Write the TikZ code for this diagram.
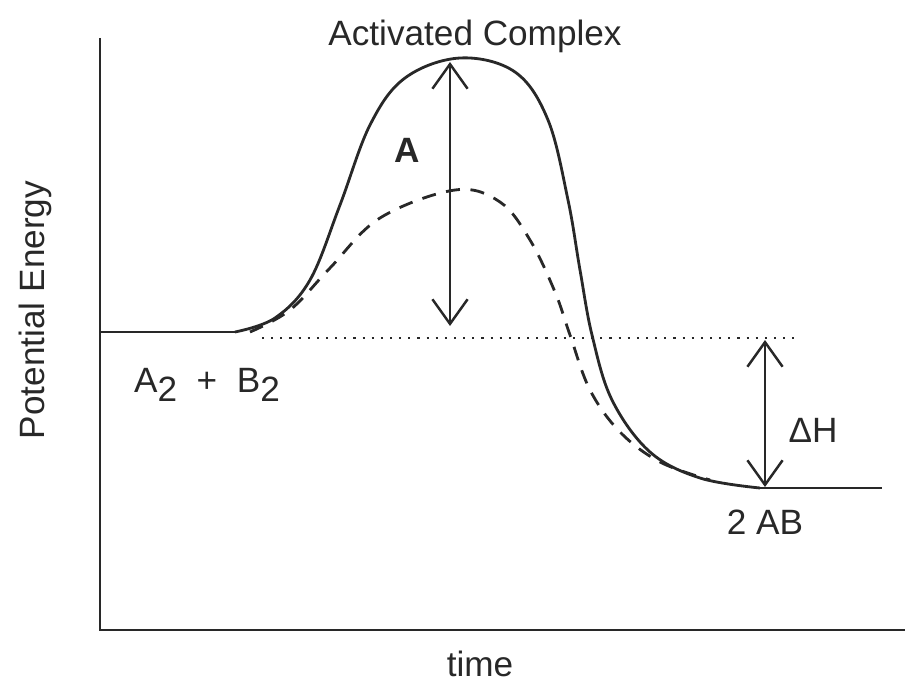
\documentclass[tikz,border=0pt]{standalone}
\usepackage{fontspec}
\setmainfont{Liberation Sans}
\usetikzlibrary{arrows.meta}
\definecolor{ink}{RGB}{40,40,40}
\newcommand{\sub}[1]{\raisebox{-0.5ex}{#1}}

\begin{document}
\begin{tikzpicture}[
  x=0.01cm, y=-0.01cm,
  font=\fontsize{10}{12}\selectfont,
  every node/.style={text=ink},
  axis/.style={draw=ink, line width=0.7pt},
  curve/.style={draw=ink, line width=0.8pt},
  dcurve/.style={curve, dash pattern=on 4pt off 3pt},
  lvl/.style={draw=ink, line width=0.6pt, dotted},
  ar/.style={{Straight Barb[length=7pt,width=10pt]}-{Straight Barb[length=7pt,width=10pt]},
             draw=ink, line width=0.7pt},
]
\useasboundingbox (0,0) rectangle (909,691);

% axes
\coordinate (o) at (100,630);
\draw[axis] (100,38) -- (o) -- (905,630);

% reactant and product levels
\coordinate (r0) at (100,332);
\coordinate (r1) at (235,332);
\coordinate (p0) at (760,488);
\coordinate (p1) at (882,488);
\draw[curve] (r0) -- (r1);
\draw[curve] (p0) -- (p1);

% uncatalysed path
\draw[curve] plot[smooth, tension=0.6] coordinates {
  (235,332) (275,318) (310,280) (340,205) (370,125) (405,78) (460,58)
  (515,72) (548,120) (568,200) (580,270) (592,335) (612,400) (650,452)
  (700,478) (760,488)};

% catalysed path
\draw[dcurve] plot[smooth, tension=0.6] coordinates {
  (250,332) (290,310) (330,268) (380,218) (455,190)
  (500,202) (530,240) (555,292) (570,335) (590,390) (620,432)
  (660,462) (710,480)};

% reactant energy reference
\coordinate (d0) at (262,338);
\coordinate (d1) at (795,338);
\draw[lvl] (d0) -- (d1);

% energy arrows
\coordinate (ea1) at (450,62);
\coordinate (ea0) at (450,326);
\draw[ar] (ea0) -- (ea1);
\coordinate (dh1) at (765,340);
\coordinate (dh0) at (765,487);
\draw[ar] (dh1) -- (dh0);

% labels
\node (top)  at (475,36)  {Activated Complex};
\node (ea)   at (407,150) {\bfseries A};
\node (reac) at (207,385) {A\sub{2}\ \ +\ \ B\sub{2}};
\node (dh)   at (813,430) {ΔH};
\node (prod) at (765,522) {2 AB};
\node (tx)   at (480,664) {time};
\node[rotate=90] (ty) at (35,310) {Potential Energy};

\end{tikzpicture}
\end{document}
